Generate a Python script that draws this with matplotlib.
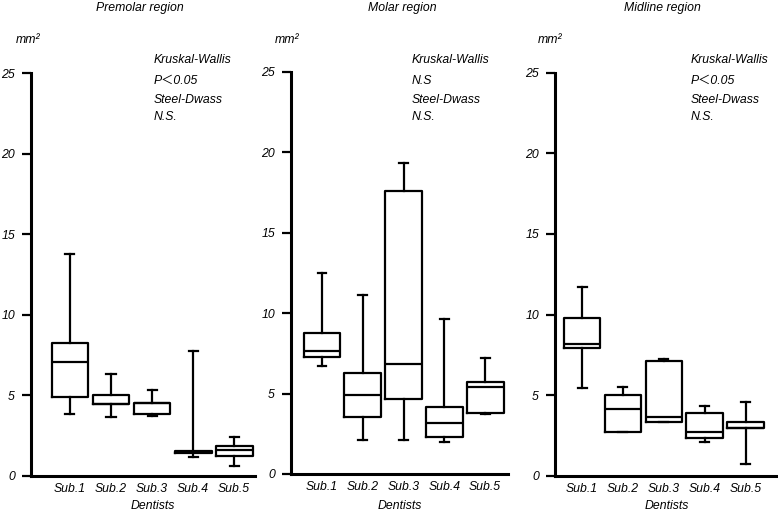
import matplotlib
matplotlib.use("Agg")
import matplotlib.pyplot as plt

plt.rcParams['font.family'] = ['Liberation Sans', 'Noto Sans CJK JP', 'DejaVu Sans']
plt.rcParams['font.style'] = 'italic'
plt.rcParams['font.size'] = 8.8

SUBJECTS = ["Sub.1", "Sub.2", "Sub.3", "Sub.4", "Sub.5"]
TITLES = ["Premolar region", "Molar region", "Midline region"]
KW_RESULT = ["P\uff1c0.05", "N.S", "P\uff1c0.05"]
SD_RESULT = ["N.S.", "N.S.", "N.S."]

# box stats per subject: whislo, q1, med, q3, whishi
premolar_lo = [3.85, 3.64, 3.72, 1.16, 0.64]
premolar_q1 = [4.90, 4.47, 3.85, 1.45, 1.26]
premolar_med = [7.05, 4.47, 4.51, 1.50, 1.61]
premolar_q3 = [8.23, 5.05, 4.51, 1.55, 1.86]
premolar_hi = [13.80, 6.30, 5.33, 7.73, 2.44]

molar_lo = [6.70, 2.10, 2.10, 2.01, 3.71]
molar_q1 = [7.30, 3.54, 4.64, 2.32, 3.81]
molar_med = [7.65, 4.91, 6.82, 3.15, 5.43]
molar_q3 = [8.75, 6.30, 17.62, 4.15, 5.74]
molar_hi = [12.52, 11.13, 19.32, 9.62, 7.21]

midline_lo = [5.42, 2.71, 3.35, 2.11, 0.73]
midline_q1 = [7.90, 2.71, 3.35, 2.32, 2.94]
midline_med = [8.15, 4.12, 3.62, 2.69, 2.94]
midline_q3 = [9.80, 5.00, 7.14, 3.91, 3.31]
midline_hi = [11.69, 5.52, 7.22, 4.32, 4.59]

regions = [
    (premolar_lo, premolar_q1, premolar_med, premolar_q3, premolar_hi),
    (molar_lo, molar_q1, molar_med, molar_q3, molar_hi),
    (midline_lo, midline_q1, midline_med, midline_q3, midline_hi),
]

W, H = 778, 512
fig = plt.figure(figsize=(W / 100, H / 100), dpi=100)

# axes rectangles in pixels: left, right, y of 0, y of 25 (from top)
axes_px = [(31, 255, 476, 73), (291, 508, 474, 72), (555, 777, 475.7, 72.7)]
xlims = [(0.05, 5.51), (0.24, 5.56), (0.34, 5.76)]
title_x = [140, 402, 662]
mm_x = [16, 275, 538]
note_x = [154, 412, 691]
dent_x = [153, 400, 667]

line_kw = dict(color="black", linewidth=1.6)

for i, (lo, q1, med, q3, hi) in enumerate(regions):
    l, r, y0, y25 = axes_px[i]
    ax = fig.add_axes([l / W, 1 - y0 / H, (r - l) / W, (y0 - y25) / H])
    stats = []
    for k in range(5):
        stats.append(dict(whislo=lo[k], q1=q1[k], med=med[k], q3=q3[k],
                          whishi=hi[k], fliers=[], label=SUBJECTS[k]))
    ax.bxp(stats, positions=range(1, 6), widths=0.9, capwidths=0.22,
           showfliers=False, boxprops=line_kw, medianprops=line_kw,
           whiskerprops=line_kw, capprops=line_kw)
    ax.set_xlim(*xlims[i])
    ax.set_ylim(0, 25)
    ax.set_yticks([0, 5, 10, 15, 20, 25])
    ax.set_xticks(range(1, 6))
    ax.set_xticklabels(SUBJECTS)
    for side in ["top", "right"]:
        ax.spines[side].set_visible(False)
    ax.spines["left"].set_linewidth(2.2)
    ax.spines["bottom"].set_linewidth(2.2)
    ax.tick_params(axis="y", direction="out", length=6.5, width=1.6, pad=5)
    ax.tick_params(axis="x", length=0, pad=5)

    fig.text(title_x[i] / W, 1 - 8 / H, TITLES[i], ha="center", va="center")
    fig.text(mm_x[i] / W, 1 - 40 / H, "mm\u00b2", ha="left", va="center")
    fig.text(note_x[i] / W, 1 - 60 / H, "Kruskal-Wallis", ha="left", va="center")
    fig.text(note_x[i] / W, 1 - 81 / H, KW_RESULT[i], ha="left", va="center")
    fig.text(note_x[i] / W, 1 - 100 / H, "Steel-Dwass", ha="left", va="center")
    fig.text(note_x[i] / W, 1 - 117 / H, SD_RESULT[i], ha="left", va="center")
    fig.text(dent_x[i] / W, 1 - 506 / H, "Dentists", ha="center", va="center")

fig.savefig("out.png", dpi=100)
